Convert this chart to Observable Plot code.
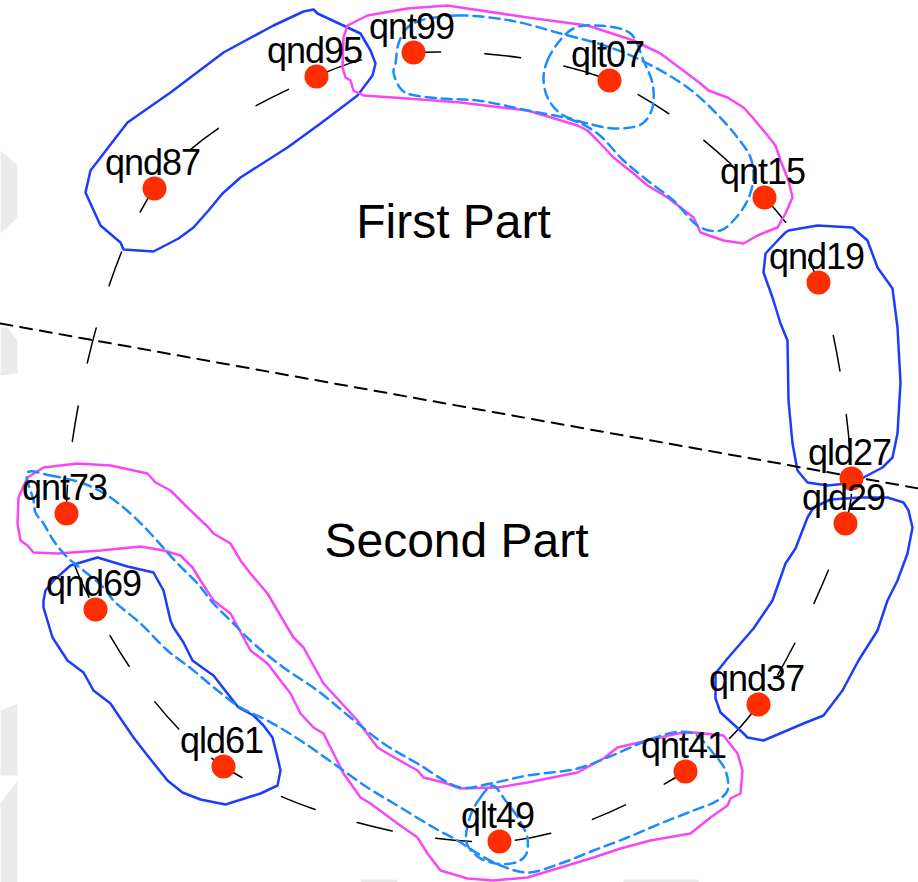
<!DOCTYPE html>
<html>
<head>
<meta charset="utf-8">
<script src="https://cdn.jsdelivr.net/npm/d3@7"></script>
<script src="https://cdn.jsdelivr.net/npm/@observablehq/plot@0.6"></script>
<style>
  html, body { margin: 0; padding: 0; background: #fff; }
  #chart svg { display: block; }
</style>
</head>
<body>
<div id="chart"></div>
<script>
// Sites around the ring, in ring order (starting at qnd87, going clockwise)
const siteNames = ["qnd87", "qnd95", "qnt99", "qlt07", "qnt15", "qnd19", "qld27",
                   "qld29", "qnd37", "qnt41", "qlt49", "qld61", "qnd69", "qnt73"];
const siteX = [154, 316, 413, 609, 764, 818, 851, 845, 758, 685, 499, 223, 95, 66];
const siteY = [188, 76, 52, 80, 197, 282, 478, 523, 704, 771, 841, 766, 609, 513];

// Section titles
const partNames = ["First Part", "Second Part"];
const partX = [453, 456];
const partY = [222, 541];

// Boundary between the two parts
const dividerX = [0, 918];
const dividerY = [323, 488];

// Solid blue groupings
const blueA = [[313,9],[317,13],[360,33],[370,50],[375,63],[372,75],[357,95],[320,123],[287,147],[240,177],[222,193],[208,210],[193,227],[178,238],[153,251],[123,249],[120,242],[100,225],[85,192],[90,170],[127,122],[170,92],[223,52],[273,25],[303,11]];
const blueB = [[788,230],[817,225],[852,227],[867,240],[877,267],[892,288],[897,327],[900,382],[897,433],[892,457],[882,467],[863,477],[847,483],[827,485],[807,482],[797,470],[792,443],[788,400],[787,340],[780,323],[772,297],[763,272],[765,253],[780,237],[785,232]];
const blueC = [[813,507],[830,499],[860,497],[887,497],[903,502],[908,510],[912,527],[907,553],[897,580],[887,600],[877,630],[858,660],[842,690],[823,715],[803,723],[763,740],[747,737],[742,732],[720,712],[715,698],[715,673],[727,658],[753,628],[772,600],[785,563],[795,548],[807,517]];
const blueD = [[45,590],[53,580],[70,565],[97,557],[127,566],[153,572],[163,590],[170,620],[173,627],[183,642],[192,660],[203,668],[213,675],[227,693],[238,707],[253,715],[263,725],[272,737],[277,757],[280,770],[277,785],[260,793],[225,804],[200,799],[182,792],[167,780],[147,755],[133,737],[118,715],[110,703],[93,690],[83,672],[67,660],[52,637],[43,607],[43,600]];

// Solid magenta groupings
const magentaA = [[447,5],[407,8],[367,15],[347,25],[343,37],[342,67],[345,77],[350,80],[353,90],[363,95],[407,98],[460,102],[527,110],[577,125],[587,130],[597,140],[613,157],[633,173],[647,185],[667,197],[693,217],[700,232],[723,240],[743,243],[757,235],[777,227],[785,213],[792,197],[788,180],[780,160],[775,145],[767,135],[753,118],[743,107],[727,97],[708,90],[700,83],[660,53],[633,40],[587,25],[527,17],[460,7]];
const magentaB = [[17,523],[18,497],[27,477],[43,467],[77,463],[110,465],[147,473],[155,482],[170,490],[187,507],[208,527],[213,533],[230,543],[240,560],[250,573],[267,593],[287,627],[293,637],[303,647],[323,683],[357,720],[377,747],[387,753],[417,770],[423,777],[443,782],[460,788],[497,787],[527,782],[577,772],[603,758],[617,747],[647,740],[677,733],[693,732],[723,735],[737,753],[742,770],[740,793],[730,798],[727,805],[710,817],[690,833],[650,840],[620,848],[593,857],[560,867],[527,877],[493,880],[467,878],[440,870],[427,853],[417,837],[397,823],[370,803],[360,797],[343,773],[333,753],[323,733],[313,727],[300,713],[290,693],[267,663],[250,650],[230,613],[213,600],[200,580],[192,567],[180,555],[163,550],[140,546],[100,550],[57,553],[33,552],[27,545],[20,540]];

// Dashed light-blue groupings
const dashA = [[420,20],[457,15],[510,20],[560,33],[610,47],[647,63],[687,87],[713,110],[737,137],[750,157],[753,177],[747,200],[733,220],[720,230],[700,227],[673,200],[647,180],[623,160],[597,133],[573,120],[527,110],[477,100],[440,98],[407,93],[400,88],[393,72],[395,63],[398,43],[407,27]];
const dashB = [[543,77],[547,60],[557,43],[573,28],[597,25],[630,33],[643,60],[652,83],[652,107],[642,123],[617,128],[587,123],[560,113],[547,97]];
const dashC = [[27,472],[50,475],[83,483],[107,495],[130,513],[150,533],[177,563],[197,583],[213,603],[233,623],[253,643],[283,667],[317,690],[350,717],[383,743],[417,763],[460,787],[490,783],[527,775],[577,768],[607,757],[647,740],[673,732],[693,733],[713,753],[725,770],[727,790],[717,800],[693,810],[660,823],[627,837],[593,850],[560,863],[527,872],[500,865],[477,853],[457,840],[433,827],[400,807],[367,787],[333,763],[300,740],[267,720],[240,707],[217,690],[193,670],[167,650],[140,623],[113,600],[103,587],[83,570],[67,557],[53,540],[43,523],[35,512],[33,500]];
const dashD = [[470,815],[480,797],[492,785],[505,800],[518,818],[527,838],[525,855],[515,862],[495,863],[477,856],[466,842]];

// Faint backdrop tabs along the left margin and the foot
const tabA = [[0,150],[15,163],[17,167],[17,217],[0,233]];
const tabB = [[0,327],[7,327],[17,340],[17,373],[0,375]];
const tabC = [[0,710],[17,703],[17,775],[0,775]];
const tabD = [[0,803],[17,780],[17,882],[0,882]];
const tabE = [[360,879],[397,879],[397,882],[360,882]];
const tabF = [[623,879],[698,879],[698,882],[623,882]];

const toRows = (shapes) => shapes.flatMap((pts, g) => pts.map(([x, y]) => ({g, x, y})));

const sites = siteNames.map((name, i) => ({name, x: siteX[i], y: siteY[i]}));
const parts = partNames.map((name, i) => ({name, x: partX[i], y: partY[i]}));
const divider = dividerX.map((x, i) => ({x, y: dividerY[i]}));

const blueRows = toRows([blueA, blueB, blueC, blueD]);
const magentaRows = toRows([magentaA, magentaB]);
const dashRows = toRows([dashA, dashB, dashC, dashD]);
const tabRows = toRows([tabA, tabB, tabC, tabD, tabE, tabF]);

const font = "'Liberation Sans', Arial, Helvetica, sans-serif";

const chart = Plot.plot({
  width: 918,
  height: 882,
  margin: 0,
  x: {domain: [0, 918], axis: null},
  y: {domain: [0, 882], reverse: true, axis: null},
  style: {background: "#fff", fontFamily: font},
  marks: [
    // backdrop tabs, filled as closed outlines
    Plot.line(tabRows, {x: "x", y: "y", z: "g", fill: "#ebebeb", stroke: "none", curve: "linear-closed"}),
    // dashed ring path linking the sites
    Plot.line(sites, {x: "x", y: "y", curve: "catmull-rom-closed", stroke: "#000", strokeWidth: 1.5,
                      strokeDasharray: "36,44", strokeDashoffset: -12}),
    Plot.line(blueRows, {x: "x", y: "y", z: "g", curve: "linear-closed", stroke: "#1e3cff", strokeWidth: 2.5}),
    Plot.line(magentaRows, {x: "x", y: "y", z: "g", curve: "linear-closed", stroke: "#f746f5", strokeWidth: 2.5}),
    Plot.line(dashRows, {x: "x", y: "y", z: "g", curve: "catmull-rom-closed", stroke: "#1a8cff", strokeWidth: 2.5,
                         strokeDasharray: "10,6"}),
    Plot.line(divider, {x: "x", y: "y", stroke: "#000", strokeWidth: 2, strokeDasharray: "12,8"}),
    Plot.dot(sites, {x: "x", y: "y", r: 12, fill: "#ff2d00", stroke: "none"}),
    Plot.text(sites, {x: "x", y: "y", text: "name", dx: -2, dy: -25, fontSize: 36, fill: "#000",
                      lineAnchor: "middle", textAnchor: "middle"}),
    Plot.text(parts, {x: "x", y: "y", text: "name", fontSize: 48, fill: "#000",
                      lineAnchor: "middle", textAnchor: "middle"})
  ]
});
// tighten the site labels slightly
d3.select(chart).selectAll("g[aria-label='text']").filter((d, i) => i === 0)
  .attr("letter-spacing", "-1px");
document.getElementById("chart").append(chart);
</script>
</body>
</html>
